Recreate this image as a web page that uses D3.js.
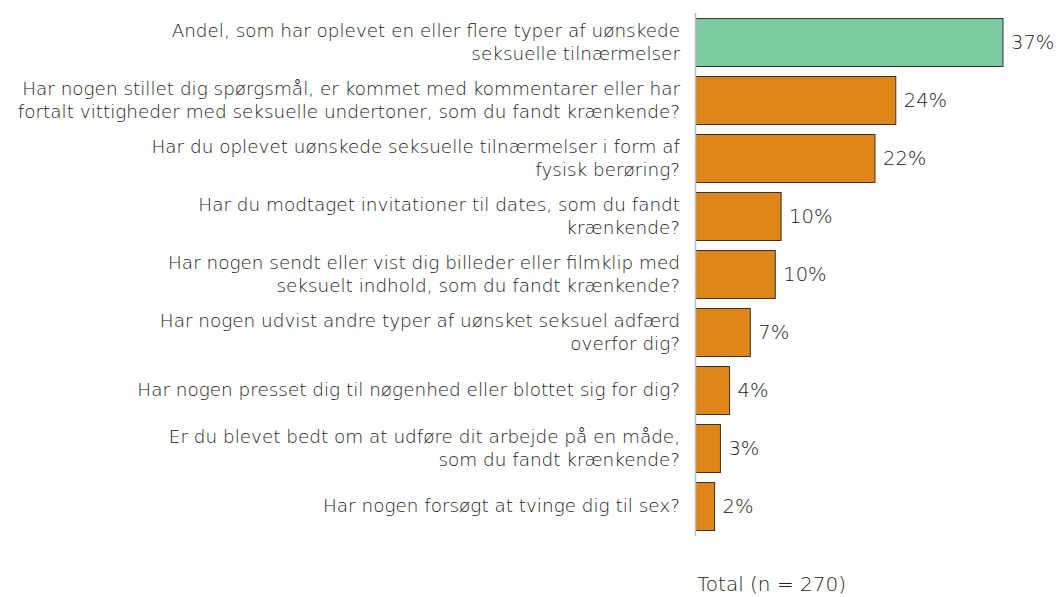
<!DOCTYPE html>
<html>
<head>
<meta charset="utf-8">
<script src="https://cdn.jsdelivr.net/npm/d3@7"></script>
<style>
  body { margin: 0; background: #fff; }
  svg text { font-family: "DejaVu Sans", sans-serif; font-weight: 300; }
</style>
</head>
<body>
<svg id="chart" width="1057" height="597"></svg>
<script>
// categories, each one already split into the lines shown
const categories = [
  ["Andel, som har oplevet en eller flere typer af uønskede", "seksuelle tilnærmelser"],
  ["Har nogen stillet dig spørgsmål, er kommet med kommentarer eller har", "fortalt vittigheder med seksuelle undertoner, som du fandt krænkende?"],
  ["Har du oplevet uønskede seksuelle tilnærmelser i form af", "fysisk berøring?"],
  ["Har du modtaget invitationer til dates, som du fandt", "krænkende?"],
  ["Har nogen sendt eller vist dig billeder eller filmklip med", "seksuelt indhold, som du fandt krænkende?"],
  ["Har nogen udvist andre typer af uønsket seksuel adfærd", "overfor dig?"],
  ["Har nogen presset dig til nøgenhed eller blottet sig for dig?"],
  ["Er du blevet bedt om at udføre dit arbejde på en måde,", "som du fandt krænkende?"],
  ["Har nogen forsøgt at tvinge dig til sex?"]
];
const values = [37.0, 24.1, 21.6, 10.3, 9.6, 6.6, 4.1, 3.0, 2.3];
const valueLabels = ["37%", "24%", "22%", "10%", "10%", "7%", "4%", "3%", "2%"];
const totalLabel = "Total (n = 270)";

const svg = d3.select("#chart");
const x0 = 695.5;

const x = d3.scaleLinear()
  .domain([0, 37])
  .range([x0, 1003]);

const y = d3.scaleBand()
  .domain(d3.range(values.length))
  .range([18, 18 + 58 * values.length - 10])
  .paddingInner(10 / 58)
  .paddingOuter(0);

// bars
svg.append("g")
  .selectAll("rect")
  .data(values)
  .join("rect")
  .attr("x", x0)
  .attr("y", (d, i) => y(i) + 0.5)
  .attr("width", d => x(d) - x0)
  .attr("height", y.bandwidth())
  .attr("fill", (d, i) => i === 0 ? "#7dcaa0" : "#de8619")
  .attr("stroke", "#333")
  .attr("stroke-width", 1);

// axis line
svg.append("line")
  .attr("x1", x0).attr("x2", x0)
  .attr("y1", 13).attr("y2", 536)
  .attr("stroke", "#bbb")
  .attr("stroke-width", 1.5);

// value labels
svg.append("g")
  .selectAll("text")
  .data(values)
  .join("text")
  .attr("x", d => x(d) + 8)
  .attr("y", (d, i) => y(i) + y.bandwidth() / 2)
  .attr("dy", "0.35em")
  .attr("font-size", 19.5)
  .attr("fill", "#222")
  .text((d, i) => valueLabels[i]);

// category labels
const lab = svg.append("g")
  .selectAll("text")
  .data(categories)
  .join("text")
  .attr("text-anchor", "end")
  .attr("font-size", 18.4)
  .attr("fill", "#222")
  .attr("y", (d, i) => y(i) + y.bandwidth() / 2);

lab.selectAll("tspan")
  .data(d => d.map((t, j) => ({ t, j, n: d.length })))
  .join("tspan")
  .attr("x", 680)
  .attr("dy", d => d.j === 0 ? (0.35 - (d.n - 1) * 0.64) + "em" : "1.28em")
  .text(d => d.t);

// footer
svg.append("text")
  .attr("x", 697)
  .attr("y", 591)
  .attr("font-size", 20)
  .attr("fill", "#222")
  .text(totalLabel);
</script>
</body>
</html>
